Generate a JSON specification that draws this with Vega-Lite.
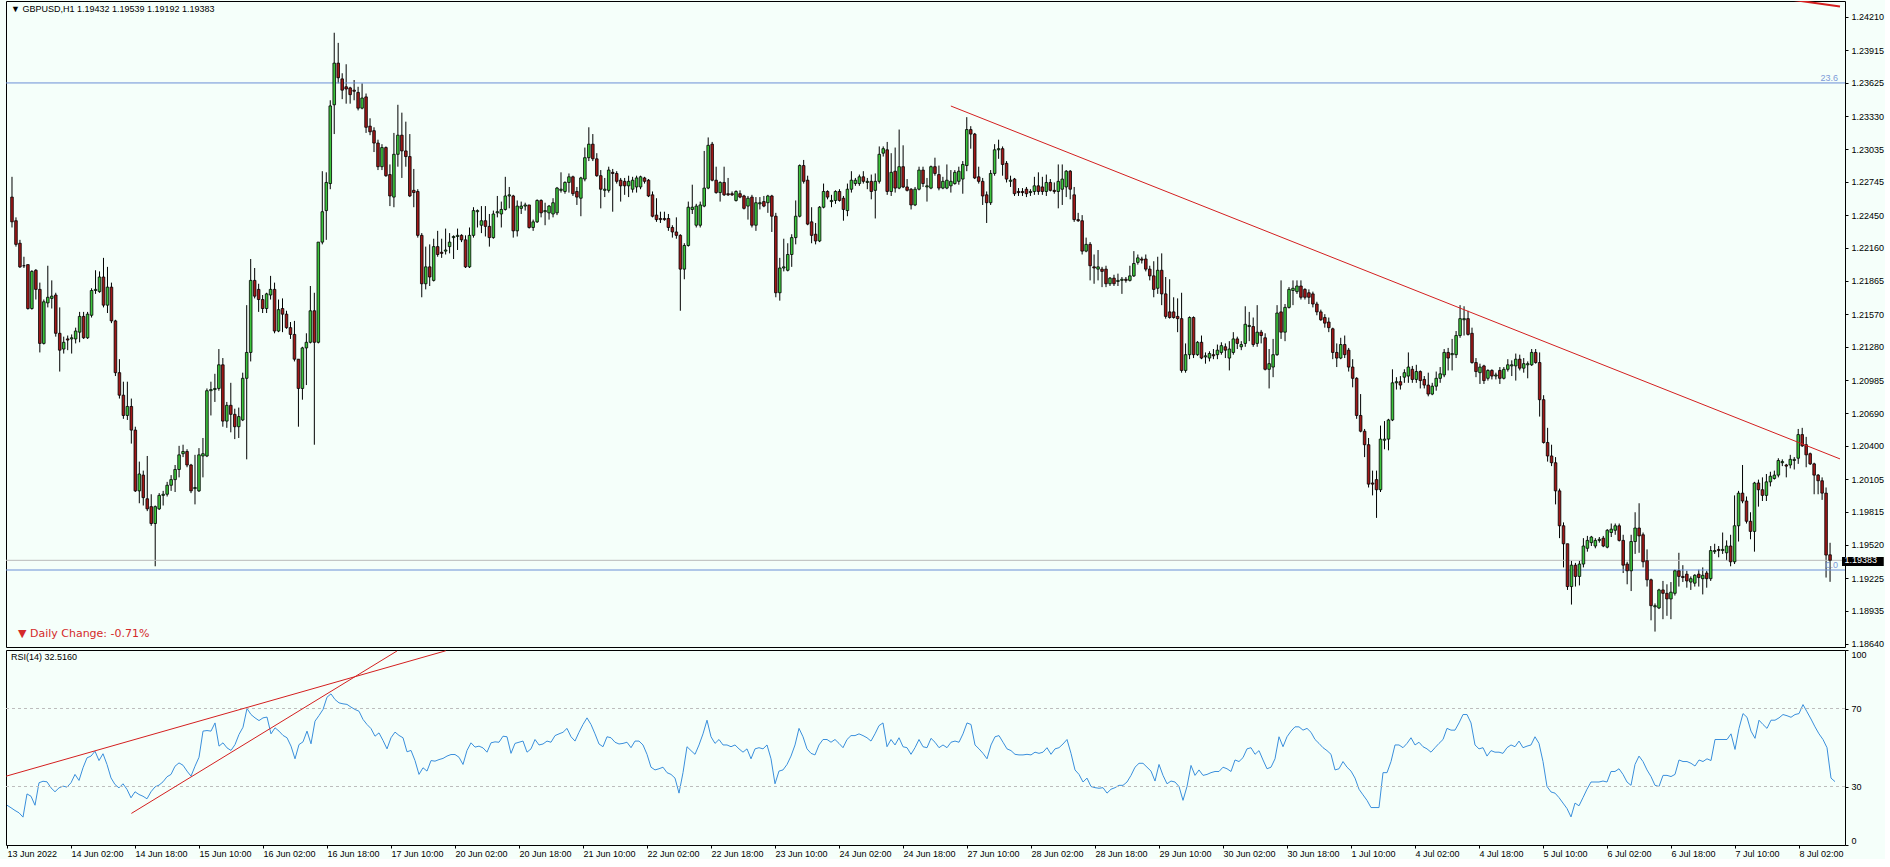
{
"$schema":"https://vega.github.io/schema/vega-lite/v6.json",
"background":"#F5FFFA",
"padding":{"left":3,"top":0,"right":0,"bottom":0},
"bounds":"flush",
"spacing":3,
"config":{"view":{"stroke":"#000000","strokeWidth":1},"font":"Liberation Sans","axis":{"labelFont":"Liberation Sans","labelFontSize":9,"labelColor":"#000000","tickColor":"#000000","domain":false,"grid":false,"title":null,"labelOverlap":false}},
"datasets":{"bars":[
{"i":0,"o":1.2261,"h":1.2279,"l":1.2234,"c":1.2239,"r":20.4},
{"i":1,"o":1.2240,"h":1.2243,"l":1.2217,"c":1.2219,"r":19.1},
{"i":2,"o":1.2220,"h":1.2223,"l":1.2198,"c":1.2199,"r":17.7},
{"i":3,"o":1.2200,"h":1.2208,"l":1.2198,"c":1.2200,"r":16.5},
{"i":4,"o":1.2201,"h":1.2201,"l":1.2161,"c":1.2162,"r":14.3},
{"i":5,"o":1.2162,"h":1.2196,"l":1.2161,"c":1.2195,"r":26.2},
{"i":6,"o":1.2196,"h":1.2197,"l":1.2170,"c":1.2179,"r":25.0},
{"i":7,"o":1.2179,"h":1.2185,"l":1.2123,"c":1.2131,"r":20.4},
{"i":8,"o":1.2131,"h":1.2170,"l":1.2130,"c":1.2168,"r":31.9},
{"i":9,"o":1.2167,"h":1.2200,"l":1.2163,"c":1.2172,"r":32.7},
{"i":10,"o":1.2171,"h":1.2187,"l":1.2162,"c":1.2173,"r":32.4},
{"i":11,"o":1.2174,"h":1.2176,"l":1.2137,"c":1.2140,"r":29.3},
{"i":12,"o":1.2140,"h":1.2163,"l":1.2106,"c":1.2125,"r":27.3},
{"i":13,"o":1.2126,"h":1.2137,"l":1.2122,"c":1.2132,"r":29.3},
{"i":14,"o":1.2135,"h":1.2138,"l":1.2125,"c":1.2134,"r":30.2},
{"i":15,"o":1.2135,"h":1.2139,"l":1.2122,"c":1.2136,"r":29.7},
{"i":16,"o":1.2135,"h":1.2145,"l":1.2131,"c":1.2142,"r":31.9},
{"i":17,"o":1.2141,"h":1.2159,"l":1.2132,"c":1.2155,"r":36.2},
{"i":18,"o":1.2155,"h":1.2159,"l":1.2135,"c":1.2136,"r":33.1},
{"i":19,"o":1.2136,"h":1.2159,"l":1.2135,"c":1.2157,"r":39.6},
{"i":20,"o":1.2156,"h":1.2180,"l":1.2154,"c":1.2178,"r":44.7},
{"i":21,"o":1.2178,"h":1.2196,"l":1.2175,"c":1.2179,"r":45.6},
{"i":22,"o":1.2177,"h":1.2195,"l":1.2176,"c":1.2190,"r":48.1},
{"i":23,"o":1.2190,"h":1.2207,"l":1.2163,"c":1.2165,"r":43.3},
{"i":24,"o":1.2165,"h":1.2199,"l":1.2158,"c":1.2181,"r":46.8},
{"i":25,"o":1.2181,"h":1.2185,"l":1.2149,"c":1.2151,"r":41.3},
{"i":26,"o":1.2151,"h":1.2152,"l":1.2102,"c":1.2105,"r":34.4},
{"i":27,"o":1.2105,"h":1.2117,"l":1.2082,"c":1.2085,"r":31.0},
{"i":28,"o":1.2085,"h":1.2097,"l":1.2064,"c":1.2067,"r":29.3},
{"i":29,"o":1.2067,"h":1.2097,"l":1.2063,"c":1.2075,"r":31.4},
{"i":30,"o":1.2075,"h":1.2082,"l":1.2042,"c":1.2054,"r":28.5},
{"i":31,"o":1.2054,"h":1.2057,"l":1.1999,"c":1.2000,"r":24.2},
{"i":32,"o":1.2000,"h":1.2026,"l":1.1989,"c":1.2015,"r":27.3},
{"i":33,"o":1.2014,"h":1.2018,"l":1.1987,"c":1.1994,"r":25.9},
{"i":34,"o":1.1993,"h":1.2031,"l":1.1982,"c":1.1984,"r":25.0},
{"i":35,"o":1.1986,"h":1.1997,"l":1.1969,"c":1.1971,"r":23.7},
{"i":36,"o":1.1971,"h":1.1987,"l":1.1933,"c":1.1986,"r":27.3},
{"i":37,"o":1.1984,"h":1.1998,"l":1.1983,"c":1.1996,"r":29.8},
{"i":38,"o":1.1996,"h":1.2000,"l":1.1987,"c":1.1997,"r":30.7},
{"i":39,"o":1.1997,"h":1.2008,"l":1.1995,"c":1.2005,"r":32.4},
{"i":40,"o":1.2005,"h":1.2014,"l":1.2000,"c":1.2010,"r":35.0},
{"i":41,"o":1.2010,"h":1.2023,"l":1.1999,"c":1.2019,"r":36.2},
{"i":42,"o":1.2019,"h":1.2040,"l":1.2012,"c":1.2032,"r":40.4},
{"i":43,"o":1.2033,"h":1.2041,"l":1.2030,"c":1.2035,"r":42.1},
{"i":44,"o":1.2035,"h":1.2037,"l":1.2021,"c":1.2023,"r":40.9},
{"i":45,"o":1.2023,"h":1.2024,"l":1.1998,"c":1.2000,"r":37.9},
{"i":46,"o":1.2002,"h":1.2032,"l":1.1988,"c":1.2003,"r":35.3},
{"i":47,"o":1.2000,"h":1.2038,"l":1.1999,"c":1.2032,"r":40.4},
{"i":48,"o":1.2031,"h":1.2047,"l":1.2012,"c":1.2033,"r":45.0},
{"i":49,"o":1.2031,"h":1.2091,"l":1.2030,"c":1.2089,"r":58.4},
{"i":50,"o":1.2089,"h":1.2097,"l":1.2067,"c":1.2090,"r":58.7},
{"i":51,"o":1.2090,"h":1.2104,"l":1.2079,"c":1.2091,"r":58.4},
{"i":52,"o":1.2091,"h":1.2126,"l":1.2089,"c":1.2112,"r":62.6},
{"i":53,"o":1.2112,"h":1.2118,"l":1.2057,"c":1.2062,"r":50.7},
{"i":54,"o":1.2062,"h":1.2079,"l":1.2056,"c":1.2076,"r":52.4},
{"i":55,"o":1.2076,"h":1.2096,"l":1.2052,"c":1.2068,"r":49.8},
{"i":56,"o":1.2068,"h":1.2073,"l":1.2046,"c":1.2057,"r":48.5},
{"i":57,"o":1.2057,"h":1.2074,"l":1.2047,"c":1.2066,"r":51.5},
{"i":58,"o":1.2063,"h":1.2105,"l":1.2062,"c":1.2100,"r":56.7},
{"i":59,"o":1.2100,"h":1.2165,"l":1.2028,"c":1.2123,"r":60.4},
{"i":60,"o":1.2123,"h":1.2206,"l":1.2115,"c":1.2187,"r":70.0},
{"i":61,"o":1.2187,"h":1.2198,"l":1.2171,"c":1.2173,"r":66.9},
{"i":62,"o":1.2179,"h":1.2184,"l":1.2159,"c":1.2170,"r":65.2},
{"i":63,"o":1.2170,"h":1.2174,"l":1.2158,"c":1.2162,"r":63.8},
{"i":64,"o":1.2162,"h":1.2176,"l":1.2158,"c":1.2175,"r":65.2},
{"i":65,"o":1.2174,"h":1.2191,"l":1.2170,"c":1.2179,"r":65.6},
{"i":66,"o":1.2179,"h":1.2185,"l":1.2140,"c":1.2142,"r":57.0},
{"i":67,"o":1.2142,"h":1.2170,"l":1.2141,"c":1.2161,"r":60.1},
{"i":68,"o":1.2162,"h":1.2171,"l":1.2141,"c":1.2157,"r":58.4},
{"i":69,"o":1.2157,"h":1.2160,"l":1.2144,"c":1.2145,"r":56.2},
{"i":70,"o":1.2145,"h":1.2150,"l":1.2135,"c":1.2139,"r":55.0},
{"i":71,"o":1.2139,"h":1.2151,"l":1.2115,"c":1.2117,"r":50.7},
{"i":72,"o":1.2117,"h":1.2117,"l":1.2057,"c":1.2091,"r":44.2},
{"i":73,"o":1.2091,"h":1.2128,"l":1.2081,"c":1.2127,"r":51.5},
{"i":74,"o":1.2127,"h":1.2140,"l":1.2094,"c":1.2132,"r":52.9},
{"i":75,"o":1.2132,"h":1.2182,"l":1.2131,"c":1.2160,"r":58.4},
{"i":76,"o":1.2160,"h":1.2176,"l":1.2041,"c":1.2132,"r":51.9},
{"i":77,"o":1.2132,"h":1.2221,"l":1.2131,"c":1.2221,"r":63.5},
{"i":78,"o":1.2221,"h":1.2284,"l":1.2219,"c":1.2248,"r":66.4},
{"i":79,"o":1.2249,"h":1.2283,"l":1.2223,"c":1.2274,"r":69.5},
{"i":80,"o":1.2273,"h":1.2347,"l":1.2268,"c":1.2342,"r":75.8},
{"i":81,"o":1.2343,"h":1.2407,"l":1.2317,"c":1.2380,"r":77.5},
{"i":82,"o":1.2380,"h":1.2398,"l":1.2362,"c":1.2367,"r":74.6},
{"i":83,"o":1.2366,"h":1.2371,"l":1.2348,"c":1.2356,"r":72.9},
{"i":84,"o":1.2359,"h":1.2379,"l":1.2344,"c":1.2357,"r":72.4},
{"i":85,"o":1.2358,"h":1.2359,"l":1.2344,"c":1.2352,"r":72.1},
{"i":86,"o":1.2356,"h":1.2365,"l":1.2347,"c":1.2355,"r":70.7},
{"i":87,"o":1.2354,"h":1.2359,"l":1.2338,"c":1.2340,"r":69.5},
{"i":88,"o":1.2340,"h":1.2362,"l":1.2339,"c":1.2349,"r":68.6},
{"i":89,"o":1.2350,"h":1.2353,"l":1.2318,"c":1.2323,"r":64.4},
{"i":90,"o":1.2324,"h":1.2331,"l":1.2316,"c":1.2319,"r":61.8},
{"i":91,"o":1.2320,"h":1.2323,"l":1.2301,"c":1.2309,"r":59.7},
{"i":92,"o":1.2309,"h":1.2312,"l":1.2285,"c":1.2288,"r":55.8},
{"i":93,"o":1.2288,"h":1.2308,"l":1.2285,"c":1.2305,"r":57.5},
{"i":94,"o":1.2305,"h":1.2306,"l":1.2279,"c":1.2280,"r":53.6},
{"i":95,"o":1.2281,"h":1.2290,"l":1.2253,"c":1.2262,"r":49.3},
{"i":96,"o":1.2261,"h":1.2318,"l":1.2252,"c":1.2299,"r":55.0},
{"i":97,"o":1.2299,"h":1.2343,"l":1.2288,"c":1.2316,"r":57.9},
{"i":98,"o":1.2316,"h":1.2336,"l":1.2278,"c":1.2302,"r":56.2},
{"i":99,"o":1.2302,"h":1.2328,"l":1.2288,"c":1.2297,"r":55.0},
{"i":100,"o":1.2297,"h":1.2317,"l":1.2261,"c":1.2262,"r":47.8},
{"i":101,"o":1.2267,"h":1.2286,"l":1.2252,"c":1.2265,"r":48.5},
{"i":102,"o":1.2266,"h":1.2268,"l":1.2225,"c":1.2227,"r":43.3},
{"i":103,"o":1.2227,"h":1.2229,"l":1.2172,"c":1.2184,"r":36.2},
{"i":104,"o":1.2184,"h":1.2217,"l":1.2179,"c":1.2199,"r":39.6},
{"i":105,"o":1.2199,"h":1.2219,"l":1.2182,"c":1.2190,"r":37.9},
{"i":106,"o":1.2187,"h":1.2224,"l":1.2186,"c":1.2217,"r":43.3},
{"i":107,"o":1.2217,"h":1.2231,"l":1.2208,"c":1.2210,"r":43.0},
{"i":108,"o":1.2212,"h":1.2224,"l":1.2207,"c":1.2211,"r":43.8},
{"i":109,"o":1.2213,"h":1.2233,"l":1.2210,"c":1.2214,"r":44.4},
{"i":110,"o":1.2217,"h":1.2229,"l":1.2211,"c":1.2221,"r":45.6},
{"i":111,"o":1.2225,"h":1.2227,"l":1.2206,"c":1.2226,"r":46.4},
{"i":112,"o":1.2226,"h":1.2233,"l":1.2214,"c":1.2227,"r":46.4},
{"i":113,"o":1.2227,"h":1.2228,"l":1.2221,"c":1.2223,"r":45.0},
{"i":114,"o":1.2223,"h":1.2227,"l":1.2198,"c":1.2199,"r":41.3},
{"i":115,"o":1.2199,"h":1.2234,"l":1.2198,"c":1.2227,"r":48.5},
{"i":116,"o":1.2227,"h":1.2252,"l":1.2225,"c":1.2249,"r":52.4},
{"i":117,"o":1.2248,"h":1.2250,"l":1.2234,"c":1.2249,"r":50.2},
{"i":118,"o":1.2236,"h":1.2253,"l":1.2229,"c":1.2240,"r":50.7},
{"i":119,"o":1.2240,"h":1.2253,"l":1.2226,"c":1.2235,"r":49.8},
{"i":120,"o":1.2235,"h":1.2246,"l":1.2217,"c":1.2225,"r":47.6},
{"i":121,"o":1.2225,"h":1.2249,"l":1.2224,"c":1.2246,"r":52.4},
{"i":122,"o":1.2247,"h":1.2262,"l":1.2243,"c":1.2248,"r":52.9},
{"i":123,"o":1.2246,"h":1.2257,"l":1.2234,"c":1.2250,"r":52.7},
{"i":124,"o":1.2250,"h":1.2279,"l":1.2249,"c":1.2262,"r":55.8},
{"i":125,"o":1.2262,"h":1.2270,"l":1.2251,"c":1.2263,"r":55.5},
{"i":126,"o":1.2262,"h":1.2263,"l":1.2225,"c":1.2231,"r":47.0},
{"i":127,"o":1.2231,"h":1.2258,"l":1.2226,"c":1.2253,"r":52.1},
{"i":128,"o":1.2251,"h":1.2257,"l":1.2246,"c":1.2253,"r":52.7},
{"i":129,"o":1.2253,"h":1.2256,"l":1.2249,"c":1.2254,"r":53.3},
{"i":130,"o":1.2254,"h":1.2254,"l":1.2233,"c":1.2234,"r":47.6},
{"i":131,"o":1.2234,"h":1.2241,"l":1.2231,"c":1.2239,"r":49.3},
{"i":132,"o":1.2239,"h":1.2259,"l":1.2238,"c":1.2258,"r":54.1},
{"i":133,"o":1.2258,"h":1.2259,"l":1.2243,"c":1.2247,"r":51.3},
{"i":134,"o":1.2248,"h":1.2256,"l":1.2236,"c":1.2249,"r":51.8},
{"i":135,"o":1.2247,"h":1.2254,"l":1.2241,"c":1.2253,"r":53.3},
{"i":136,"o":1.2246,"h":1.2260,"l":1.2243,"c":1.2256,"r":52.7},
{"i":137,"o":1.2247,"h":1.2270,"l":1.2245,"c":1.2269,"r":56.1},
{"i":138,"o":1.2267,"h":1.2283,"l":1.2265,"c":1.2268,"r":57.0},
{"i":139,"o":1.2266,"h":1.2275,"l":1.2264,"c":1.2274,"r":57.8},
{"i":140,"o":1.2274,"h":1.2282,"l":1.2265,"c":1.2279,"r":59.8},
{"i":141,"o":1.2279,"h":1.2280,"l":1.2262,"c":1.2264,"r":55.5},
{"i":142,"o":1.2266,"h":1.2270,"l":1.2254,"c":1.2261,"r":53.3},
{"i":143,"o":1.2260,"h":1.2279,"l":1.2244,"c":1.2278,"r":57.8},
{"i":144,"o":1.2277,"h":1.2305,"l":1.2275,"c":1.2296,"r":61.8},
{"i":145,"o":1.2296,"h":1.2323,"l":1.2293,"c":1.2308,"r":65.2},
{"i":146,"o":1.2308,"h":1.2317,"l":1.2293,"c":1.2295,"r":61.8},
{"i":147,"o":1.2295,"h":1.2300,"l":1.2279,"c":1.2280,"r":57.0},
{"i":148,"o":1.2280,"h":1.2285,"l":1.2251,"c":1.2268,"r":51.8},
{"i":149,"o":1.2267,"h":1.2278,"l":1.2261,"c":1.2268,"r":50.4},
{"i":150,"o":1.2267,"h":1.2288,"l":1.2265,"c":1.2285,"r":55.5},
{"i":151,"o":1.2283,"h":1.2286,"l":1.2248,"c":1.2282,"r":55.0},
{"i":152,"o":1.2282,"h":1.2284,"l":1.2273,"c":1.2275,"r":52.7},
{"i":153,"o":1.2276,"h":1.2278,"l":1.2257,"c":1.2271,"r":51.8},
{"i":154,"o":1.2275,"h":1.2278,"l":1.2263,"c":1.2271,"r":52.1},
{"i":155,"o":1.2271,"h":1.2280,"l":1.2261,"c":1.2275,"r":52.7},
{"i":156,"o":1.2268,"h":1.2279,"l":1.2265,"c":1.2276,"r":49.9},
{"i":157,"o":1.2270,"h":1.2280,"l":1.2265,"c":1.2278,"r":53.3},
{"i":158,"o":1.2270,"h":1.2280,"l":1.2268,"c":1.2279,"r":53.3},
{"i":159,"o":1.2278,"h":1.2279,"l":1.2273,"c":1.2275,"r":51.3},
{"i":160,"o":1.2276,"h":1.2277,"l":1.2261,"c":1.2262,"r":46.5},
{"i":161,"o":1.2263,"h":1.2266,"l":1.2243,"c":1.2244,"r":39.9},
{"i":162,"o":1.2245,"h":1.2260,"l":1.2239,"c":1.2241,"r":38.5},
{"i":163,"o":1.2242,"h":1.2248,"l":1.2238,"c":1.2241,"r":39.1},
{"i":164,"o":1.2242,"h":1.2248,"l":1.2240,"c":1.2241,"r":39.9},
{"i":165,"o":1.2242,"h":1.2246,"l":1.2231,"c":1.2234,"r":37.1},
{"i":166,"o":1.2234,"h":1.2236,"l":1.2225,"c":1.2230,"r":36.2},
{"i":167,"o":1.2230,"h":1.2243,"l":1.2224,"c":1.2227,"r":34.3},
{"i":168,"o":1.2227,"h":1.2228,"l":1.2160,"c":1.2197,"r":26.6},
{"i":169,"o":1.2197,"h":1.2220,"l":1.2188,"c":1.2218,"r":37.1},
{"i":170,"o":1.2218,"h":1.2257,"l":1.2217,"c":1.2252,"r":50.4},
{"i":171,"o":1.2250,"h":1.2272,"l":1.2246,"c":1.2252,"r":48.4},
{"i":172,"o":1.2236,"h":1.2255,"l":1.2234,"c":1.2253,"r":46.5},
{"i":173,"o":1.2236,"h":1.2257,"l":1.2234,"c":1.2254,"r":51.3},
{"i":174,"o":1.2253,"h":1.2302,"l":1.2252,"c":1.2269,"r":57.0},
{"i":175,"o":1.2269,"h":1.2314,"l":1.2268,"c":1.2307,"r":64.0},
{"i":176,"o":1.2308,"h":1.2310,"l":1.2275,"c":1.2276,"r":55.5},
{"i":177,"o":1.2276,"h":1.2288,"l":1.2264,"c":1.2265,"r":52.1},
{"i":178,"o":1.2265,"h":1.2275,"l":1.2257,"c":1.2274,"r":54.1},
{"i":179,"o":1.2274,"h":1.2288,"l":1.2262,"c":1.2263,"r":51.3},
{"i":180,"o":1.2264,"h":1.2278,"l":1.2262,"c":1.2263,"r":51.3},
{"i":181,"o":1.2264,"h":1.2266,"l":1.2262,"c":1.2263,"r":50.4},
{"i":182,"o":1.2258,"h":1.2267,"l":1.2257,"c":1.2266,"r":51.3},
{"i":183,"o":1.2264,"h":1.2267,"l":1.2260,"c":1.2261,"r":49.3},
{"i":184,"o":1.2262,"h":1.2263,"l":1.2250,"c":1.2251,"r":47.6},
{"i":185,"o":1.2253,"h":1.2262,"l":1.2241,"c":1.2260,"r":49.3},
{"i":186,"o":1.2261,"h":1.2263,"l":1.2234,"c":1.2236,"r":44.2},
{"i":187,"o":1.2236,"h":1.2261,"l":1.2231,"c":1.2256,"r":49.3},
{"i":188,"o":1.2255,"h":1.2261,"l":1.2250,"c":1.2256,"r":49.9},
{"i":189,"o":1.2257,"h":1.2262,"l":1.2252,"c":1.2253,"r":49.3},
{"i":190,"o":1.2256,"h":1.2263,"l":1.2247,"c":1.2262,"r":51.3},
{"i":191,"o":1.2262,"h":1.2263,"l":1.2230,"c":1.2244,"r":44.2},
{"i":192,"o":1.2244,"h":1.2247,"l":1.2172,"c":1.2176,"r":31.4},
{"i":193,"o":1.2176,"h":1.2207,"l":1.2169,"c":1.2198,"r":37.9},
{"i":194,"o":1.2198,"h":1.2224,"l":1.2195,"c":1.2199,"r":38.5},
{"i":195,"o":1.2196,"h":1.2220,"l":1.2195,"c":1.2210,"r":41.3},
{"i":196,"o":1.2210,"h":1.2228,"l":1.2199,"c":1.2225,"r":45.6},
{"i":197,"o":1.2225,"h":1.2258,"l":1.2219,"c":1.2244,"r":51.3},
{"i":198,"o":1.2244,"h":1.2290,"l":1.2243,"c":1.2289,"r":59.8},
{"i":199,"o":1.2289,"h":1.2294,"l":1.2273,"c":1.2275,"r":55.5},
{"i":200,"o":1.2276,"h":1.2280,"l":1.2236,"c":1.2237,"r":49.3},
{"i":201,"o":1.2239,"h":1.2252,"l":1.2220,"c":1.2227,"r":47.0},
{"i":202,"o":1.2228,"h":1.2238,"l":1.2219,"c":1.2222,"r":46.2},
{"i":203,"o":1.2222,"h":1.2253,"l":1.2221,"c":1.2252,"r":51.3},
{"i":204,"o":1.2252,"h":1.2273,"l":1.2251,"c":1.2266,"r":54.1},
{"i":205,"o":1.2266,"h":1.2267,"l":1.2259,"c":1.2261,"r":54.1},
{"i":206,"o":1.2257,"h":1.2263,"l":1.2252,"c":1.2258,"r":52.7},
{"i":207,"o":1.2258,"h":1.2267,"l":1.2255,"c":1.2266,"r":54.1},
{"i":208,"o":1.2266,"h":1.2268,"l":1.2257,"c":1.2258,"r":52.1},
{"i":209,"o":1.2260,"h":1.2262,"l":1.2240,"c":1.2250,"r":49.9},
{"i":210,"o":1.2249,"h":1.2273,"l":1.2244,"c":1.2268,"r":54.1},
{"i":211,"o":1.2268,"h":1.2284,"l":1.2265,"c":1.2276,"r":56.1},
{"i":212,"o":1.2273,"h":1.2278,"l":1.2271,"c":1.2276,"r":56.1},
{"i":213,"o":1.2273,"h":1.2281,"l":1.2271,"c":1.2279,"r":57.0},
{"i":214,"o":1.2279,"h":1.2284,"l":1.2273,"c":1.2275,"r":56.1},
{"i":215,"o":1.2274,"h":1.2278,"l":1.2268,"c":1.2275,"r":55.0},
{"i":216,"o":1.2275,"h":1.2281,"l":1.2259,"c":1.2266,"r":53.3},
{"i":217,"o":1.2267,"h":1.2282,"l":1.2242,"c":1.2275,"r":57.0},
{"i":218,"o":1.2275,"h":1.2306,"l":1.2273,"c":1.2299,"r":61.2},
{"i":219,"o":1.2300,"h":1.2306,"l":1.2297,"c":1.2304,"r":62.6},
{"i":220,"o":1.2303,"h":1.2310,"l":1.2263,"c":1.2266,"r":50.4},
{"i":221,"o":1.2266,"h":1.2300,"l":1.2262,"c":1.2283,"r":54.1},
{"i":222,"o":1.2284,"h":1.2305,"l":1.2265,"c":1.2269,"r":51.3},
{"i":223,"o":1.2269,"h":1.2321,"l":1.2268,"c":1.2288,"r":55.0},
{"i":224,"o":1.2288,"h":1.2307,"l":1.2269,"c":1.2270,"r":50.4},
{"i":225,"o":1.2270,"h":1.2277,"l":1.2266,"c":1.2267,"r":49.9},
{"i":226,"o":1.2268,"h":1.2269,"l":1.2250,"c":1.2254,"r":46.5},
{"i":227,"o":1.2254,"h":1.2270,"l":1.2253,"c":1.2268,"r":49.9},
{"i":228,"o":1.2268,"h":1.2288,"l":1.2267,"c":1.2285,"r":54.1},
{"i":229,"o":1.2285,"h":1.2288,"l":1.2270,"c":1.2273,"r":50.4},
{"i":230,"o":1.2270,"h":1.2278,"l":1.2257,"c":1.2271,"r":49.9},
{"i":231,"o":1.2269,"h":1.2289,"l":1.2268,"c":1.2288,"r":54.7},
{"i":232,"o":1.2288,"h":1.2296,"l":1.2280,"c":1.2282,"r":52.7},
{"i":233,"o":1.2281,"h":1.2289,"l":1.2267,"c":1.2269,"r":49.9},
{"i":234,"o":1.2269,"h":1.2279,"l":1.2268,"c":1.2275,"r":51.3},
{"i":235,"o":1.2269,"h":1.2290,"l":1.2268,"c":1.2276,"r":49.9},
{"i":236,"o":1.2271,"h":1.2285,"l":1.2265,"c":1.2275,"r":52.7},
{"i":237,"o":1.2273,"h":1.2285,"l":1.2272,"c":1.2283,"r":53.3},
{"i":238,"o":1.2275,"h":1.2288,"l":1.2272,"c":1.2284,"r":52.7},
{"i":239,"o":1.2277,"h":1.2293,"l":1.2264,"c":1.2290,"r":57.0},
{"i":240,"o":1.2289,"h":1.2332,"l":1.2284,"c":1.2321,"r":62.6},
{"i":241,"o":1.2321,"h":1.2324,"l":1.2304,"c":1.2317,"r":61.8},
{"i":242,"o":1.2317,"h":1.2318,"l":1.2277,"c":1.2278,"r":51.3},
{"i":243,"o":1.2279,"h":1.2288,"l":1.2273,"c":1.2275,"r":49.3},
{"i":244,"o":1.2275,"h":1.2278,"l":1.2254,"c":1.2262,"r":47.0},
{"i":245,"o":1.2263,"h":1.2266,"l":1.2238,"c":1.2256,"r":44.2},
{"i":246,"o":1.2256,"h":1.2285,"l":1.2254,"c":1.2282,"r":51.3},
{"i":247,"o":1.2282,"h":1.2308,"l":1.2280,"c":1.2303,"r":55.5},
{"i":248,"o":1.2303,"h":1.2312,"l":1.2295,"c":1.2304,"r":56.1},
{"i":249,"o":1.2304,"h":1.2306,"l":1.2280,"c":1.2290,"r":52.7},
{"i":250,"o":1.2291,"h":1.2293,"l":1.2274,"c":1.2277,"r":49.3},
{"i":251,"o":1.2275,"h":1.2280,"l":1.2270,"c":1.2276,"r":48.4},
{"i":252,"o":1.2277,"h":1.2278,"l":1.2262,"c":1.2264,"r":46.5},
{"i":253,"o":1.2266,"h":1.2269,"l":1.2262,"c":1.2265,"r":46.2},
{"i":254,"o":1.2266,"h":1.2269,"l":1.2262,"c":1.2265,"r":46.2},
{"i":255,"o":1.2268,"h":1.2270,"l":1.2261,"c":1.2264,"r":46.5},
{"i":256,"o":1.2265,"h":1.2268,"l":1.2262,"c":1.2266,"r":46.2},
{"i":257,"o":1.2266,"h":1.2279,"l":1.2263,"c":1.2271,"r":47.6},
{"i":258,"o":1.2271,"h":1.2283,"l":1.2263,"c":1.2266,"r":47.0},
{"i":259,"o":1.2270,"h":1.2279,"l":1.2263,"c":1.2266,"r":47.6},
{"i":260,"o":1.2266,"h":1.2281,"l":1.2262,"c":1.2274,"r":49.9},
{"i":261,"o":1.2274,"h":1.2277,"l":1.2266,"c":1.2267,"r":46.5},
{"i":262,"o":1.2267,"h":1.2274,"l":1.2264,"c":1.2266,"r":49.3},
{"i":263,"o":1.2266,"h":1.2290,"l":1.2251,"c":1.2275,"r":49.9},
{"i":264,"o":1.2268,"h":1.2290,"l":1.2254,"c":1.2277,"r":51.8},
{"i":265,"o":1.2270,"h":1.2285,"l":1.2261,"c":1.2284,"r":54.1},
{"i":266,"o":1.2284,"h":1.2285,"l":1.2259,"c":1.2268,"r":47.0},
{"i":267,"o":1.2263,"h":1.2270,"l":1.2239,"c":1.2241,"r":38.5},
{"i":268,"o":1.2241,"h":1.2247,"l":1.2239,"c":1.2240,"r":36.2},
{"i":269,"o":1.2240,"h":1.2245,"l":1.2210,"c":1.2213,"r":32.3},
{"i":270,"o":1.2213,"h":1.2225,"l":1.2212,"c":1.2219,"r":34.3},
{"i":271,"o":1.2219,"h":1.2221,"l":1.2187,"c":1.2200,"r":30.0},
{"i":272,"o":1.2199,"h":1.2210,"l":1.2184,"c":1.2198,"r":29.4},
{"i":273,"o":1.2197,"h":1.2214,"l":1.2187,"c":1.2199,"r":29.1},
{"i":274,"o":1.2197,"h":1.2199,"l":1.2181,"c":1.2195,"r":29.4},
{"i":275,"o":1.2197,"h":1.2200,"l":1.2181,"c":1.2184,"r":26.6},
{"i":276,"o":1.2184,"h":1.2190,"l":1.2182,"c":1.2189,"r":28.6},
{"i":277,"o":1.2189,"h":1.2192,"l":1.2182,"c":1.2184,"r":29.4},
{"i":278,"o":1.2186,"h":1.2193,"l":1.2182,"c":1.2187,"r":30.6},
{"i":279,"o":1.2187,"h":1.2190,"l":1.2175,"c":1.2188,"r":30.6},
{"i":280,"o":1.2188,"h":1.2190,"l":1.2185,"c":1.2187,"r":32.3},
{"i":281,"o":1.2187,"h":1.2200,"l":1.2186,"c":1.2191,"r":35.7},
{"i":282,"o":1.2191,"h":1.2213,"l":1.2190,"c":1.2202,"r":39.9},
{"i":283,"o":1.2203,"h":1.2210,"l":1.2201,"c":1.2207,"r":41.9},
{"i":284,"o":1.2206,"h":1.2208,"l":1.2202,"c":1.2205,"r":41.9},
{"i":285,"o":1.2206,"h":1.2210,"l":1.2195,"c":1.2197,"r":39.9},
{"i":286,"o":1.2197,"h":1.2200,"l":1.2187,"c":1.2191,"r":37.9},
{"i":287,"o":1.2191,"h":1.2204,"l":1.2172,"c":1.2179,"r":32.8},
{"i":288,"o":1.2180,"h":1.2208,"l":1.2175,"c":1.2196,"r":41.3},
{"i":289,"o":1.2196,"h":1.2211,"l":1.2165,"c":1.2175,"r":35.7},
{"i":290,"o":1.2175,"h":1.2190,"l":1.2153,"c":1.2155,"r":31.4},
{"i":291,"o":1.2159,"h":1.2188,"l":1.2153,"c":1.2154,"r":32.8},
{"i":292,"o":1.2159,"h":1.2172,"l":1.2153,"c":1.2154,"r":32.3},
{"i":293,"o":1.2155,"h":1.2171,"l":1.2141,"c":1.2153,"r":30.0},
{"i":294,"o":1.2153,"h":1.2176,"l":1.2105,"c":1.2107,"r":22.9},
{"i":295,"o":1.2107,"h":1.2131,"l":1.2105,"c":1.2121,"r":30.0},
{"i":296,"o":1.2121,"h":1.2155,"l":1.2117,"c":1.2154,"r":40.8},
{"i":297,"o":1.2154,"h":1.2155,"l":1.2118,"c":1.2121,"r":35.7},
{"i":298,"o":1.2121,"h":1.2133,"l":1.2120,"c":1.2132,"r":38.5},
{"i":299,"o":1.2132,"h":1.2138,"l":1.2117,"c":1.2118,"r":35.7},
{"i":300,"o":1.2119,"h":1.2123,"l":1.2113,"c":1.2120,"r":36.2},
{"i":301,"o":1.2118,"h":1.2124,"l":1.2115,"c":1.2122,"r":37.1},
{"i":302,"o":1.2121,"h":1.2126,"l":1.2117,"c":1.2120,"r":37.7},
{"i":303,"o":1.2121,"h":1.2130,"l":1.2117,"c":1.2125,"r":37.7},
{"i":304,"o":1.2123,"h":1.2132,"l":1.2121,"c":1.2129,"r":39.9},
{"i":305,"o":1.2128,"h":1.2131,"l":1.2118,"c":1.2125,"r":39.1},
{"i":306,"o":1.2118,"h":1.2133,"l":1.2107,"c":1.2126,"r":37.7},
{"i":307,"o":1.2123,"h":1.2141,"l":1.2121,"c":1.2135,"r":43.6},
{"i":308,"o":1.2135,"h":1.2137,"l":1.2126,"c":1.2131,"r":42.8},
{"i":309,"o":1.2128,"h":1.2133,"l":1.2125,"c":1.2130,"r":44.8},
{"i":310,"o":1.2131,"h":1.2164,"l":1.2128,"c":1.2148,"r":49.3},
{"i":311,"o":1.2146,"h":1.2159,"l":1.2133,"c":1.2147,"r":49.9},
{"i":312,"o":1.2146,"h":1.2154,"l":1.2128,"c":1.2130,"r":46.5},
{"i":313,"o":1.2131,"h":1.2165,"l":1.2128,"c":1.2141,"r":48.4},
{"i":314,"o":1.2141,"h":1.2143,"l":1.2131,"c":1.2138,"r":43.6},
{"i":315,"o":1.2136,"h":1.2140,"l":1.2107,"c":1.2108,"r":39.1},
{"i":316,"o":1.2108,"h":1.2126,"l":1.2091,"c":1.2113,"r":39.9},
{"i":317,"o":1.2110,"h":1.2135,"l":1.2101,"c":1.2121,"r":44.2},
{"i":318,"o":1.2121,"h":1.2165,"l":1.2120,"c":1.2158,"r":55.5},
{"i":319,"o":1.2159,"h":1.2187,"l":1.2135,"c":1.2141,"r":50.4},
{"i":320,"o":1.2141,"h":1.2166,"l":1.2133,"c":1.2163,"r":55.5},
{"i":321,"o":1.2163,"h":1.2181,"l":1.2162,"c":1.2179,"r":58.4},
{"i":322,"o":1.2178,"h":1.2187,"l":1.2165,"c":1.2180,"r":60.6},
{"i":323,"o":1.2177,"h":1.2187,"l":1.2175,"c":1.2182,"r":60.6},
{"i":324,"o":1.2182,"h":1.2187,"l":1.2170,"c":1.2172,"r":58.9},
{"i":325,"o":1.2179,"h":1.2180,"l":1.2170,"c":1.2172,"r":59.8},
{"i":326,"o":1.2176,"h":1.2179,"l":1.2166,"c":1.2172,"r":57.8},
{"i":327,"o":1.2175,"h":1.2177,"l":1.2163,"c":1.2166,"r":54.1},
{"i":328,"o":1.2166,"h":1.2168,"l":1.2156,"c":1.2159,"r":52.1},
{"i":329,"o":1.2159,"h":1.2161,"l":1.2151,"c":1.2152,"r":49.9},
{"i":330,"o":1.2154,"h":1.2157,"l":1.2145,"c":1.2149,"r":48.4},
{"i":331,"o":1.2150,"h":1.2154,"l":1.2141,"c":1.2145,"r":46.5},
{"i":332,"o":1.2144,"h":1.2145,"l":1.2117,"c":1.2123,"r":38.5},
{"i":333,"o":1.2123,"h":1.2131,"l":1.2110,"c":1.2118,"r":39.1},
{"i":334,"o":1.2118,"h":1.2136,"l":1.2117,"c":1.2130,"r":42.8},
{"i":335,"o":1.2130,"h":1.2138,"l":1.2118,"c":1.2121,"r":39.9},
{"i":336,"o":1.2125,"h":1.2127,"l":1.2106,"c":1.2110,"r":37.9},
{"i":337,"o":1.2110,"h":1.2117,"l":1.2092,"c":1.2100,"r":34.3},
{"i":338,"o":1.2100,"h":1.2101,"l":1.2064,"c":1.2067,"r":28.6},
{"i":339,"o":1.2067,"h":1.2086,"l":1.2052,"c":1.2053,"r":25.7},
{"i":340,"o":1.2053,"h":1.2055,"l":1.2030,"c":1.2041,"r":22.9},
{"i":341,"o":1.2041,"h":1.2047,"l":1.2003,"c":1.2006,"r":19.2},
{"i":342,"o":1.2007,"h":1.2018,"l":1.1996,"c":1.2006,"r":19.2},
{"i":343,"o":1.2010,"h":1.2018,"l":1.1976,"c":1.2001,"r":19.2},
{"i":344,"o":1.2001,"h":1.2058,"l":1.1999,"c":1.2046,"r":37.1},
{"i":345,"o":1.2045,"h":1.2062,"l":1.2037,"c":1.2046,"r":37.1},
{"i":346,"o":1.2046,"h":1.2064,"l":1.2036,"c":1.2063,"r":42.8},
{"i":347,"o":1.2063,"h":1.2108,"l":1.2062,"c":1.2096,"r":51.3},
{"i":348,"o":1.2096,"h":1.2101,"l":1.2090,"c":1.2097,"r":51.3},
{"i":349,"o":1.2097,"h":1.2102,"l":1.2090,"c":1.2094,"r":49.9},
{"i":350,"o":1.2101,"h":1.2108,"l":1.2096,"c":1.2105,"r":52.1},
{"i":351,"o":1.2102,"h":1.2123,"l":1.2096,"c":1.2110,"r":55.0},
{"i":352,"o":1.2108,"h":1.2111,"l":1.2096,"c":1.2099,"r":51.3},
{"i":353,"o":1.2099,"h":1.2112,"l":1.2096,"c":1.2106,"r":52.7},
{"i":354,"o":1.2106,"h":1.2107,"l":1.2091,"c":1.2098,"r":50.4},
{"i":355,"o":1.2099,"h":1.2102,"l":1.2091,"c":1.2094,"r":49.3},
{"i":356,"o":1.2094,"h":1.2105,"l":1.2084,"c":1.2086,"r":47.6},
{"i":357,"o":1.2086,"h":1.2096,"l":1.2085,"c":1.2093,"r":49.9},
{"i":358,"o":1.2093,"h":1.2106,"l":1.2089,"c":1.2100,"r":52.1},
{"i":359,"o":1.2100,"h":1.2110,"l":1.2096,"c":1.2104,"r":54.1},
{"i":360,"o":1.2103,"h":1.2126,"l":1.2101,"c":1.2123,"r":59.8},
{"i":361,"o":1.2123,"h":1.2127,"l":1.2107,"c":1.2118,"r":58.9},
{"i":362,"o":1.2121,"h":1.2135,"l":1.2107,"c":1.2122,"r":58.9},
{"i":363,"o":1.2121,"h":1.2142,"l":1.2118,"c":1.2138,"r":62.6},
{"i":364,"o":1.2138,"h":1.2165,"l":1.2136,"c":1.2153,"r":66.9},
{"i":365,"o":1.2152,"h":1.2164,"l":1.2138,"c":1.2153,"r":66.9},
{"i":366,"o":1.2153,"h":1.2160,"l":1.2138,"c":1.2139,"r":62.6},
{"i":367,"o":1.2140,"h":1.2145,"l":1.2113,"c":1.2114,"r":51.3},
{"i":368,"o":1.2114,"h":1.2118,"l":1.2101,"c":1.2106,"r":49.3},
{"i":369,"o":1.2105,"h":1.2113,"l":1.2095,"c":1.2110,"r":49.9},
{"i":370,"o":1.2111,"h":1.2112,"l":1.2095,"c":1.2098,"r":45.6},
{"i":371,"o":1.2100,"h":1.2108,"l":1.2098,"c":1.2107,"r":48.4},
{"i":372,"o":1.2107,"h":1.2108,"l":1.2099,"c":1.2102,"r":47.6},
{"i":373,"o":1.2102,"h":1.2105,"l":1.2099,"c":1.2103,"r":47.6},
{"i":374,"o":1.2107,"h":1.2110,"l":1.2095,"c":1.2100,"r":47.0},
{"i":375,"o":1.2100,"h":1.2110,"l":1.2099,"c":1.2108,"r":49.9},
{"i":376,"o":1.2108,"h":1.2117,"l":1.2106,"c":1.2112,"r":51.3},
{"i":377,"o":1.2111,"h":1.2116,"l":1.2102,"c":1.2112,"r":50.4},
{"i":378,"o":1.2111,"h":1.2122,"l":1.2098,"c":1.2117,"r":53.3},
{"i":379,"o":1.2117,"h":1.2121,"l":1.2107,"c":1.2109,"r":49.9},
{"i":380,"o":1.2109,"h":1.2118,"l":1.2105,"c":1.2113,"r":50.7},
{"i":381,"o":1.2112,"h":1.2115,"l":1.2100,"c":1.2113,"r":51.3},
{"i":382,"o":1.2112,"h":1.2126,"l":1.2111,"c":1.2123,"r":55.5},
{"i":383,"o":1.2123,"h":1.2126,"l":1.2113,"c":1.2114,"r":52.1},
{"i":384,"o":1.2114,"h":1.2123,"l":1.2066,"c":1.2081,"r":42.8},
{"i":385,"o":1.2081,"h":1.2085,"l":1.2042,"c":1.2043,"r":30.0},
{"i":386,"o":1.2043,"h":1.2056,"l":1.2026,"c":1.2031,"r":27.2},
{"i":387,"o":1.2031,"h":1.2041,"l":1.2022,"c":1.2025,"r":26.6},
{"i":388,"o":1.2025,"h":1.2030,"l":1.1988,"c":1.2000,"r":24.3},
{"i":389,"o":1.2000,"h":1.2002,"l":1.1958,"c":1.1969,"r":21.5},
{"i":390,"o":1.1969,"h":1.1972,"l":1.1932,"c":1.1953,"r":18.7},
{"i":391,"o":1.1953,"h":1.1953,"l":1.1912,"c":1.1915,"r":14.4},
{"i":392,"o":1.1915,"h":1.1938,"l":1.1899,"c":1.1934,"r":21.5},
{"i":393,"o":1.1934,"h":1.1936,"l":1.1915,"c":1.1924,"r":20.1},
{"i":394,"o":1.1924,"h":1.1938,"l":1.1916,"c":1.1935,"r":24.3},
{"i":395,"o":1.1935,"h":1.1958,"l":1.1932,"c":1.1951,"r":28.6},
{"i":396,"o":1.1949,"h":1.1960,"l":1.1946,"c":1.1956,"r":32.3},
{"i":397,"o":1.1954,"h":1.1960,"l":1.1951,"c":1.1959,"r":32.3},
{"i":398,"o":1.1951,"h":1.1958,"l":1.1949,"c":1.1956,"r":32.3},
{"i":399,"o":1.1956,"h":1.1959,"l":1.1954,"c":1.1957,"r":32.8},
{"i":400,"o":1.1958,"h":1.1960,"l":1.1950,"c":1.1951,"r":32.3},
{"i":401,"o":1.1950,"h":1.1966,"l":1.1949,"c":1.1965,"r":37.7},
{"i":402,"o":1.1963,"h":1.1971,"l":1.1959,"c":1.1966,"r":37.7},
{"i":403,"o":1.1965,"h":1.1971,"l":1.1961,"c":1.1969,"r":39.1},
{"i":404,"o":1.1969,"h":1.1971,"l":1.1955,"c":1.1956,"r":36.2},
{"i":405,"o":1.1956,"h":1.1961,"l":1.1927,"c":1.1934,"r":32.3},
{"i":406,"o":1.1935,"h":1.1937,"l":1.1917,"c":1.1929,"r":30.6},
{"i":407,"o":1.1929,"h":1.1961,"l":1.1911,"c":1.1955,"r":41.3},
{"i":408,"o":1.1955,"h":1.1981,"l":1.1944,"c":1.1967,"r":45.6},
{"i":409,"o":1.1967,"h":1.1989,"l":1.1945,"c":1.1960,"r":42.8},
{"i":410,"o":1.1961,"h":1.1963,"l":1.1932,"c":1.1937,"r":38.5},
{"i":411,"o":1.1938,"h":1.1948,"l":1.1915,"c":1.1921,"r":35.1},
{"i":412,"o":1.1921,"h":1.1922,"l":1.1885,"c":1.1898,"r":30.6},
{"i":413,"o":1.1897,"h":1.1900,"l":1.1875,"c":1.1898,"r":30.0},
{"i":414,"o":1.1896,"h":1.1913,"l":1.1895,"c":1.1912,"r":35.7},
{"i":415,"o":1.1912,"h":1.1920,"l":1.1886,"c":1.1909,"r":35.7},
{"i":416,"o":1.1909,"h":1.1917,"l":1.1889,"c":1.1904,"r":35.1},
{"i":417,"o":1.1904,"h":1.1919,"l":1.1886,"c":1.1910,"r":36.2},
{"i":418,"o":1.1909,"h":1.1930,"l":1.1907,"c":1.1929,"r":43.6},
{"i":419,"o":1.1929,"h":1.1945,"l":1.1915,"c":1.1924,"r":42.8},
{"i":420,"o":1.1924,"h":1.1934,"l":1.1919,"c":1.1923,"r":42.8},
{"i":421,"o":1.1926,"h":1.1929,"l":1.1914,"c":1.1920,"r":41.9},
{"i":422,"o":1.1919,"h":1.1924,"l":1.1912,"c":1.1922,"r":40.5},
{"i":423,"o":1.1918,"h":1.1926,"l":1.1915,"c":1.1925,"r":43.6},
{"i":424,"o":1.1926,"h":1.1930,"l":1.1915,"c":1.1923,"r":42.8},
{"i":425,"o":1.1922,"h":1.1932,"l":1.1908,"c":1.1925,"r":44.2},
{"i":426,"o":1.1927,"h":1.1929,"l":1.1914,"c":1.1922,"r":43.3},
{"i":427,"o":1.1922,"h":1.1951,"l":1.1920,"c":1.1947,"r":54.1},
{"i":428,"o":1.1946,"h":1.1953,"l":1.1944,"c":1.1947,"r":54.1},
{"i":429,"o":1.1948,"h":1.1951,"l":1.1941,"c":1.1947,"r":54.1},
{"i":430,"o":1.1947,"h":1.1963,"l":1.1944,"c":1.1948,"r":54.1},
{"i":431,"o":1.1945,"h":1.1956,"l":1.1938,"c":1.1951,"r":57.0},
{"i":432,"o":1.1951,"h":1.1961,"l":1.1933,"c":1.1937,"r":49.0},
{"i":433,"o":1.1937,"h":1.1996,"l":1.1935,"c":1.1969,"r":59.8},
{"i":434,"o":1.1969,"h":1.2000,"l":1.1955,"c":1.1998,"r":67.4},
{"i":435,"o":1.1998,"h":1.2023,"l":1.1989,"c":1.1991,"r":65.5},
{"i":436,"o":1.1991,"h":1.1995,"l":1.1971,"c":1.1973,"r":58.4},
{"i":437,"o":1.1973,"h":1.1981,"l":1.1957,"c":1.1964,"r":54.7},
{"i":438,"o":1.1964,"h":1.2008,"l":1.1946,"c":1.2007,"r":64.0},
{"i":439,"o":1.2007,"h":1.2010,"l":1.1986,"c":1.2001,"r":61.8},
{"i":440,"o":1.2001,"h":1.2012,"l":1.1991,"c":1.1996,"r":59.8},
{"i":441,"o":1.1996,"h":1.2015,"l":1.1991,"c":1.2008,"r":64.0},
{"i":442,"o":1.2008,"h":1.2017,"l":1.2004,"c":1.2013,"r":64.0},
{"i":443,"o":1.2011,"h":1.2018,"l":1.2010,"c":1.2014,"r":65.2},
{"i":444,"o":1.2014,"h":1.2029,"l":1.2012,"c":1.2027,"r":66.9},
{"i":445,"o":1.2025,"h":1.2028,"l":1.2022,"c":1.2026,"r":66.3},
{"i":446,"o":1.2023,"h":1.2024,"l":1.2012,"c":1.2022,"r":65.5},
{"i":447,"o":1.2023,"h":1.2032,"l":1.2020,"c":1.2028,"r":66.9},
{"i":448,"o":1.2027,"h":1.2030,"l":1.2019,"c":1.2028,"r":67.4},
{"i":449,"o":1.2029,"h":1.2055,"l":1.2024,"c":1.2050,"r":72.0},
{"i":450,"o":1.2050,"h":1.2056,"l":1.2039,"c":1.2040,"r":68.3},
{"i":451,"o":1.2041,"h":1.2048,"l":1.2021,"c":1.2032,"r":64.6},
{"i":452,"o":1.2033,"h":1.2034,"l":1.2023,"c":1.2024,"r":60.6},
{"i":453,"o":1.2024,"h":1.2025,"l":1.1997,"c":1.2014,"r":57.0},
{"i":454,"o":1.2014,"h":1.2015,"l":1.1997,"c":1.2009,"r":54.1},
{"i":455,"o":1.2009,"h":1.2012,"l":1.1992,"c":1.1998,"r":49.9},
{"i":456,"o":1.1998,"h":1.2003,"l":1.1923,"c":1.1943,"r":34.3},
{"i":457,"o":1.19432,"h":1.19539,"l":1.19192,"c":1.19383,"r":32.516}
]},
"vconcat":[
{
"width":1839,"height":646,
"title":{"text":"▼  GBPUSD,H1  1.19432 1.19539 1.19192 1.19383","anchor":"start","frame":"group","orient":"top","baseline":"top","offset":-13,"dx":5,"fontSize":9,"fontWeight":"normal","font":"Liberation Sans","color":"#000000"},
"resolve":{"axis":{"x":"independent","y":"independent"}},
"layer":[
{"data":{"name":"bars"},"mark":{"type":"rule","color":"#000000","strokeWidth":1},
 "encoding":{
  "x":{"field":"i","type":"quantitative","scale":{"domain":[-0.25,459.5],"nice":false,"zero":false},"axis":null},
  "y":{"field":"l","type":"quantitative","scale":{"domain":[1.18613,1.24352],"nice":false,"zero":false},"axis":{"orient":"right","values":[1.1864,1.18935,1.19225,1.1952,1.19815,1.20105,1.204,1.2069,1.20985,1.2128,1.2157,1.21865,1.2216,1.2245,1.22745,1.23035,1.2333,1.23625,1.23915,1.2421],"format":".5f","tickSize":3,"labelPadding":3,"labelOverlap":false,"labelFlush":false,"labelBound":false}},
  "y2":{"field":"h"}}},
{"data":{"values":[{"p":1.23624}]},"mark":{"type":"rule","color":"#6b8fd6","strokeWidth":1},"encoding":{"y":{"field":"p","type":"quantitative","axis":null}}},
{"data":{"values":[{"p":1.19297}]},"mark":{"type":"rule","color":"#6b8fd6","strokeWidth":1},"encoding":{"y":{"field":"p","type":"quantitative","axis":null}}},
{"data":{"values":[{"p":1.19383}]},"mark":{"type":"rule","color":"#b9b9b9","strokeWidth":1},"encoding":{"y":{"field":"p","type":"quantitative","axis":null}}},
{"data":{"name":"bars"},"mark":{"type":"bar","size":2.6,"stroke":"#000000","strokeWidth":0.8},
 "encoding":{
  "x":{"field":"i","type":"quantitative","axis":null},
  "y":{"field":"o","type":"quantitative","axis":null},
  "y2":{"field":"c"},
  "color":{"condition":{"test":"datum.c>=datum.o","value":"#3cc43c"},"value":"#a01818"}}},
{"data":{"values":[{"i":236,"p":1.23419},{"i":459.5,"p":1.20284}]},"mark":{"type":"line","color":"#d41f1f","strokeWidth":1,"clip":true},
 "encoding":{"x":{"field":"i","type":"quantitative","axis":null},"y":{"field":"p","type":"quantitative","axis":null}}},
{"data":{"values":[{"i":440,"p":1.24400},{"i":459.5,"p":1.24303}]},"mark":{"type":"line","color":"#d41f1f","strokeWidth":2,"clip":true},
 "encoding":{"x":{"field":"i","type":"quantitative","axis":null},"y":{"field":"p","type":"quantitative","axis":null}}},
{"data":{"values":[{"i":459,"p":1.23668,"t":"23.6"},{"i":459,"p":1.19338,"t":"0.0"}]},"mark":{"type":"text","align":"right","baseline":"middle","fontSize":9,"font":"Liberation Sans","color":"#7d9ad8"},
 "encoding":{"x":{"field":"i","type":"quantitative","axis":null},"y":{"field":"p","type":"quantitative","axis":null},"text":{"field":"t"}}},
{"data":{"values":[{"i":1.5,"p":1.18729,"t":"▼ Daily Change: -0.71%"}]},"mark":{"type":"text","align":"left","baseline":"middle","fontSize":11,"font":"DejaVu Sans","color":"#d42a2a"},
 "encoding":{"x":{"field":"i","type":"quantitative","axis":null},"y":{"field":"p","type":"quantitative","axis":null},"text":{"field":"t"}}},
{"data":{"values":[{"a":460,"b":470.5,"p1":1.19413,"p2":1.19333}]},"mark":{"type":"rect","color":"#000000","clip":false},
 "encoding":{"x":{"field":"a","type":"quantitative","axis":null},"x2":{"field":"b"},"y":{"field":"p1","type":"quantitative","axis":null},"y2":{"field":"p2"}}},
{"data":{"values":[{"i":460.6,"p":1.19383,"t":"1.19383"}]},"mark":{"type":"text","align":"left","baseline":"middle","fontSize":9,"font":"Liberation Sans","color":"#ffffff","clip":false},
 "encoding":{"x":{"field":"i","type":"quantitative","axis":null},"y":{"field":"p","type":"quantitative","axis":null},"text":{"field":"t"}}}
]
},
{
"width":1839,"height":195,
"title":{"text":"RSI(14) 32.5160","anchor":"start","frame":"group","orient":"top","baseline":"top","offset":-13,"dx":5,"fontSize":9,"fontWeight":"normal","font":"Liberation Sans","color":"#000000"},
"resolve":{"axis":{"x":"independent","y":"independent"}},
"layer":[
{"data":{"name":"bars"},"mark":{"type":"line","color":"#3a8fdc","strokeWidth":1},
 "encoding":{
  "x":{"field":"i","type":"quantitative","scale":{"domain":[-0.25,459.5],"nice":false,"zero":false},
   "axis":{"orient":"bottom","values":[0,16,32,48,64,80,96,112,128,144,160,176,192,208,224,240,256,272,288,304,320,336,352,368,384,400,416,432,448],
   "labelExpr":"['13 Jun 2022','14 Jun 02:00','14 Jun 18:00','15 Jun 10:00','16 Jun 02:00','16 Jun 18:00','17 Jun 10:00','20 Jun 02:00','20 Jun 18:00','21 Jun 10:00','22 Jun 02:00','22 Jun 18:00','23 Jun 10:00','24 Jun 02:00','24 Jun 18:00','27 Jun 10:00','28 Jun 02:00','28 Jun 18:00','29 Jun 10:00','30 Jun 02:00','30 Jun 18:00','1 Jul 10:00','4 Jul 02:00','4 Jul 18:00','5 Jul 10:00','6 Jul 02:00','6 Jul 18:00','7 Jul 10:00','8 Jul 02:00'][round(datum.value/16)]",
   "labelAlign":"left","labelPadding":1,"tickSize":3,"labelOverlap":false,"labelFlush":false}},
  "y":{"field":"r","type":"quantitative","scale":{"domain":[0,100],"nice":false,"zero":false},"axis":{"orient":"right","values":[0,30,70,100],"tickSize":3,"labelPadding":3,"labelFlush":true}}}},
{"data":{"values":[{"v":70},{"v":30}]},"mark":{"type":"rule","color":"#bdbdbd","strokeDash":[3,3],"strokeWidth":1},"encoding":{"y":{"field":"v","type":"quantitative","axis":null}}},
{"data":{"values":[{"i":-0.2,"v":35.3,"g":"a"},{"i":109.7,"v":99.6,"g":"a"},{"i":31.1,"v":16.2,"g":"b"},{"i":97.5,"v":99.5,"g":"b"}]},"mark":{"type":"line","color":"#d41f1f","strokeWidth":1},
 "encoding":{"x":{"field":"i","type":"quantitative","axis":null},"y":{"field":"v","type":"quantitative","axis":null},"detail":{"field":"g"}}}
]
}
]
}
